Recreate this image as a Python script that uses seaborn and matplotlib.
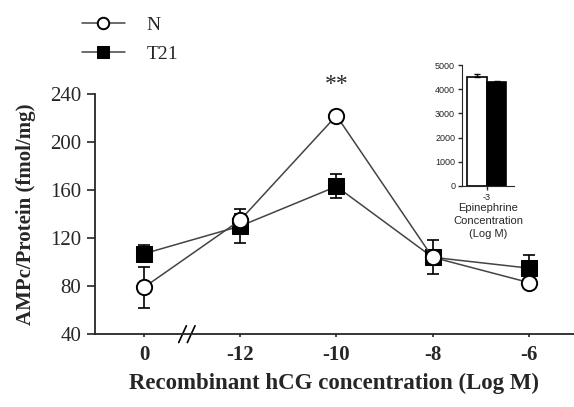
import numpy as np
import pandas as pd
import matplotlib
matplotlib.use('Agg')
import matplotlib.pyplot as plt
import seaborn as sns

# data
conc_labels = ['0', '-12', '-10', '-8', '-6']
n_mean = [79, 135, 222, 104, 83]
n_err = [17, 5, 3, 4, 3]
t21_mean = [107, 130, 163, 104, 95]
t21_err = [7, 14, 10, 14, 11]

inset_groups = ['N', 'T21']
inset_mean = [4500, 4300]
inset_err = [130, 60]

sns.set_style('ticks')
plt.rcParams['font.family'] = ['Liberation Serif', 'DejaVu Serif']

df = pd.DataFrame({'pos': np.arange(len(conc_labels)), 'label': conc_labels,
                   'N': n_mean, 'N_err': n_err, 'T21': t21_mean, 'T21_err': t21_err})

fig = plt.figure(figsize=(5.74, 4.07), dpi=100)
ax = fig.add_axes([0.1655, 0.179, 0.8345, 0.59])

# error bars first, then lines + markers
for col in ['T21', 'N']:
    ax.errorbar(df['pos'], df[col], yerr=df[col + '_err'], fmt='none', ecolor='black',
                elinewidth=1.2, capsize=4, capthick=1.2, zorder=2)
sns.lineplot(data=df, x='pos', y='N', ax=ax, color='#444444', lw=1.1, marker='o',
             markersize=11, markerfacecolor='white', markeredgecolor='black',
             markeredgewidth=1.4, label='N', zorder=4)
sns.lineplot(data=df, x='pos', y='T21', ax=ax, color='#444444', lw=1.1, marker='s',
             markersize=11, markerfacecolor='black', markeredgecolor='black',
             label='T21', zorder=3)

ax.set_xlim(-0.51, 4.47)
ax.set_ylim(40, 240)
ax.set_yticks([40, 80, 120, 160, 200, 240])
ax.set_xticks(df['pos'])
ax.set_xticklabels(conc_labels, fontweight='bold')
ax.tick_params(axis='both', labelsize=15, width=1.2)
ax.tick_params(axis='y', length=6, pad=4)
ax.tick_params(axis='x', length=2, pad=6)
for s in ['top', 'right']:
    ax.spines[s].set_visible(False)
for s in ['left', 'bottom']:
    ax.spines[s].set_linewidth(1.3)
ax.set_ylabel('AMPc/Protein (fmol/mg)', fontsize=15, fontweight='bold')
ax.yaxis.set_label_coords(-0.123, 0.5)
ax.set_xlabel('Recombinant hCG concentration (Log M)', fontsize=16.5,
              fontweight='bold')
ax.xaxis.label.set_va('center')
ax.xaxis.set_label_coords(0.5, -0.204)

# axis break mark
for dx in [0.40, 0.49]:
    ax.plot([dx - 0.04, dx + 0.04], [33, 47], color='black', lw=1.2, clip_on=False)
ax.text(2, 248, '**', ha='center', va='center', fontsize=17, clip_on=False)

ax.legend(loc='upper left', bbox_to_anchor=(0.143, 0.96), bbox_transform=fig.transFigure,
          frameon=False, fontsize=14, handlelength=2.2, handletextpad=1.1,
          labelspacing=0.6, borderpad=0, borderaxespad=0, markerscale=0.75)

# inset
ins = fig.add_axes([0.805, 0.543, 0.09, 0.297])
idf = pd.DataFrame({'group': inset_groups, 'mean': inset_mean, 'x': ['-3', '-3']})
sns.barplot(data=idf, x='x', y='mean', hue='group', palette=['white', 'black'],
            edgecolor='black', linewidth=1.2, ax=ins, legend=False, width=0.8,
            errorbar=None)
for i, p in enumerate(ins.patches[:2]):
    cx = p.get_x() + p.get_width() / 2
    ins.errorbar(cx, inset_mean[i], yerr=[[0], [inset_err[i]]], fmt='none',
                 ecolor='black', elinewidth=1, capsize=2)
ins.set_ylim(0, 5000)
ins.set_xlim(-0.5, 0.55)
ins.set_yticks([0, 1000, 2000, 3000, 4000, 5000])
ins.set_yticklabels(['0', '1000', '2000', '3000', '4000', '5000'])
ins.tick_params(axis='both', labelsize=6.5, width=1, length=3, pad=2)
for lab in ins.get_yticklabels() + ins.get_xticklabels():
    lab.set_family(['Liberation Sans', 'DejaVu Sans'])
ins.set_ylabel('')
ins.set_xlabel('Epinephrine\nConcentration\n(Log M)', fontsize=8, linespacing=1.35,
               family=['Liberation Sans', 'DejaVu Sans'], labelpad=1)
for s in ['top', 'right']:
    ins.spines[s].set_visible(False)

fig.savefig('out.png', dpi=100)
